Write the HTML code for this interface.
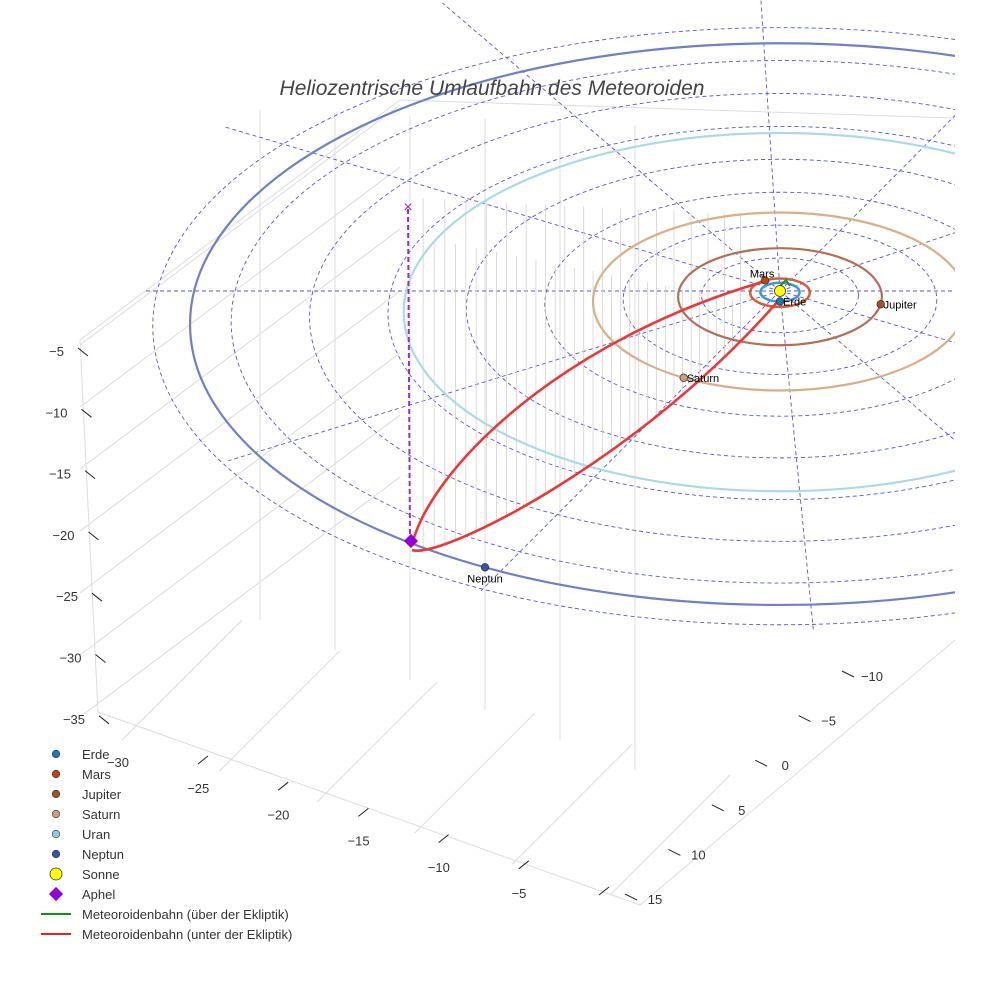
<!DOCTYPE html>
<html><head><meta charset="utf-8">
<style>
html,body{margin:0;padding:0;background:#fff;}
svg{display:block;font-family:"Liberation Sans",sans-serif;}
</style></head>
<body>
<svg id="chart" width="984" height="984" viewBox="0 0 984 984">
<defs><clipPath id="scene"><rect x="0" y="0" width="955" height="984"/></clipPath></defs>
<g id="box" stroke="#dcdcdc" stroke-width="1" fill="none"></g>
<g id="grid" clip-path="url(#scene)"></g>
<g id="drops"></g>
<g id="orbits" clip-path="url(#scene)"></g>
<g id="meteor"></g>
<g id="planets"></g>
<g id="axes" font-size="13" fill="#333"></g>
<text x="492" y="95" text-anchor="middle" font-size="21" font-style="italic" fill="#444">Heliozentrische Umlaufbahn des Meteoroiden</text>
<g id="legend" font-size="13" fill="#333"></g>
</svg>
<script>
const planetNames = ["Erde","Mars","Jupiter","Saturn","Uran","Neptun"];
const planetRadii = [1.0, 1.52, 5.2, 9.54, 19.2, 30.1];
const planetAngles = [90, 240, 9, 121, 0, 120];
const planetColors = ["#1f77b4","#c1440e","#a0522d","#c8a07a","#93ccd8","#4050a8"];
const orbitColors = ["#3a9ad9","#d0603a","#b07058","#d4b08c","#add8e6","#7080c0"];
const gridRadii = [4,8,12,16,20,24,28,32];
const spokeAngles = [0,29,58,87,118,150,180,209,238,268,298,328];
const zTicks = [-5,-10,-15,-20,-25,-30,-35];
const xTicks = [-30,-25,-20,-15,-10,-5];
const yTicks = [-10,-5,0,5,10,15];

const NS="http://www.w3.org/2000/svg";
function mk(t,a,p){const e=document.createElementNS(NS,t);for(const k in a)e.setAttribute(k,a[k]);p.appendChild(e);return e;}
const SX=780, SY=291, KX=19.6, KY=9.33;
function cyOf(r){return SY+1.1*r;}
function px(r,deg){const a=deg*Math.PI/180;return [SX+r*KX*Math.cos(a), cyOf(r)+r*KY*Math.sin(a)];}
function spokeEnd(r,deg){const a=deg*Math.PI/180;return [SX+r*KX*Math.cos(a), SY+r*KY*1.12*Math.sin(a)];}

// box lines
const box=document.getElementById('box');
const boxLines=[[80,340,400,100],[400,100,955,118],[98,712,640,905],[98,712,80,340],[640,905,955,640]];
boxLines.forEach(l=>mk('line',{x1:l[0],y1:l[1],x2:l[2],y2:l[3]},box));
for(let i=0;i<6;i++){const t=i/5;const x=122+t*(610-122),y=740+t*(895-740);
  mk('line',{x1:x,y1:y,x2:x+120,y2:y-120},box);}
for(let i=0;i<6;i++){const x=260+i*75;mk('line',{x1:x,y1:110+i*3,x2:x,y2:620+i*30},box);}
for(let i=0;i<7;i++){const y=345+i*62;mk('line',{x1:80,y1:y,x2:400,y2:y-240},box);}

// grid circles + spokes
const grid=document.getElementById('grid');
gridRadii.forEach(r=>{const e=mk('ellipse',{cx:SX,cy:cyOf(r),rx:r*KX,ry:r*KY,fill:'none',stroke:'#5555dd','stroke-width':0.9,'stroke-dasharray':'4,3'},grid);
  });
spokeAngles.forEach(a=>{const p=spokeEnd(32.5,a);const e=mk('line',{x1:SX,y1:SY,x2:p[0],y2:p[1],stroke:'#5555dd','stroke-width':0.9,'stroke-dasharray':'4,3'},grid);
  });

// orbits
const orb=document.getElementById('orbits');
planetRadii.forEach((r,i)=>{const e=mk('ellipse',{cx:SX,cy:cyOf(r),rx:r*KX,ry:r*KY,fill:'none',stroke:orbitColors[i],'stroke-width':i<2?2.5:2.2},orb);
  });

// meteoroid
const met=document.getElementById('meteor');
const drops=document.getElementById('drops');
const lowerPath="M 412 550 C 440 560 640 460 779 300";
const lp=mk('path',{d:lowerPath,fill:'none'},met);
const L=lp.getTotalLength();
for(let i=1;i<40;i++){const p=lp.getPointAtLength(L*i/40);if(p.x>745)continue;
  const top=(i%2?198:235)+(p.x-412)*(i%2?0.05:0.2);
  const e=mk('line',{x1:p.x,y1:p.y,x2:p.x,y2:top,stroke:'#d2d2d2','stroke-width':0.8},drops);
  }
lp.setAttribute('stroke','#e8393a');lp.setAttribute('stroke-width','2.6');

const up=mk('path',{d:"M 412 545 C 430 470 560 340 766 281",fill:'none',stroke:'#e8393a','stroke-width':2.6},met);

const gr=mk('path',{d:"M 776 290 L 786 280 L 790 286",fill:'none',stroke:'#2a8a2a','stroke-width':2},met);

const vl=mk('line',{x1:410,y1:542,x2:408,y2:207,stroke:'#9b30c0','stroke-width':2,'stroke-dasharray':'5,3'},met);

const xm=mk('text',{x:408,y:212,'text-anchor':'middle','font-size':16,fill:'#9b30c0'},met);xm.textContent='×';


// planets
const pl=document.getElementById('planets');
planetNames.forEach((n,i)=>{if(n==='Uran')return;const p=px(planetRadii[i],planetAngles[i]);
  const c=mk('circle',{cx:p[0],cy:p[1],r:3.8,fill:planetColors[i],stroke:'#333','stroke-width':0.7},pl);
  
  const t=mk('text',{x:p[0]+(n==='Mars'?-3:(n==='Neptun'?0:3)),y:p[1]+(n==='Mars'?-3:(n==='Neptun'?15:4)),'font-size':11,fill:'#000','text-anchor':n==='Neptun'||n==='Mars'?'middle':'start'},pl);
  t.textContent=n;});
const sun=mk('circle',{cx:SX,cy:SY,r:5.5,fill:'#ffff00',stroke:'#333','stroke-width':0.8},pl);

const aph=mk('rect',{x:406,y:536,width:10,height:10,fill:'#9400d3',transform:'rotate(45 411 541)'},pl);


// axes ticks
const ax=document.getElementById('axes');
zTicks.forEach((v,i)=>{const y=352+i*61.3;const x=78+i*3.5;
  mk('line',{x1:x,y1:y-4,x2:x+10,y2:y+4,stroke:'#222'},ax);
  const t=mk('text',{x:x-14,y:y+4,'text-anchor':'end'},ax);t.textContent=String(v).replace('-','−');
  });
xTicks.forEach((v,i)=>{const x=118+i*80.2,y=767+i*26.2;
  mk('line',{x1:x+80,y1:y-3,x2:x+90,y2:y-11,stroke:'#222'},ax);
  const t=mk('text',{x:x,y:y,'text-anchor':'middle'},ax);t.textContent=String(v).replace('-','−');
  });
yTicks.forEach((v,i)=>{const x=872-i*43.4,y=681+i*44.6;
  mk('line',{x1:x-30,y1:y-10,x2:x-18,y2:y-4,stroke:'#222'},ax);
  const t=mk('text',{x:x,y:y,'text-anchor':'middle'},ax);t.textContent=String(v).replace('-','−');
  });

// legend
const lg=document.getElementById('legend');
const legNames=planetNames.concat(["Sonne","Aphel","Meteoroidenbahn (über der Ekliptik)","Meteoroidenbahn (unter der Ekliptik)"]);
legNames.forEach((n,i)=>{const y=754+i*20;
  if(i<6){mk('circle',{cx:56,cy:y,r:3.8,fill:planetColors[i],stroke:'#333','stroke-width':0.6},lg);}
  else if(i===6){mk('circle',{cx:56,cy:y,r:6,fill:'#ffff00',stroke:'#333','stroke-width':0.8},lg);}
  else if(i===7){mk('rect',{x:51,y:y-5,width:10,height:10,fill:'#9400d3',transform:'rotate(45 56 '+y+')'},lg);}
  else{mk('line',{x1:41,y1:y,x2:71,y2:y,stroke:i===8?'#1a8a1a':'#e82020','stroke-width':2},lg);}
  const t=mk('text',{x:82,y:y+5},lg);t.textContent=n;
  });
</script>
</body></html>
